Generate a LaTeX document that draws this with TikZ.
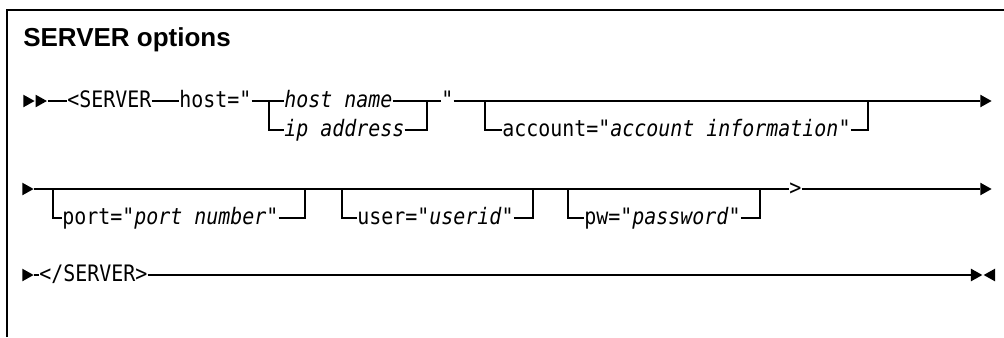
\documentclass[tikz,border=0pt]{standalone}
\usepackage{fontspec}
\setsansfont{Liberation Sans}
\newfontfamily\railfont[FakeStretch=0.88]{DejaVu Sans Mono}
\usetikzlibrary{positioning,shapes.geometric}

\begin{document}
\begin{tikzpicture}[
    x=0.75pt, y=-0.75pt,
    railline/.style={line width=1.1pt},
    railtext/.style={font=\railfont\fontsize{17}{20}\selectfont, inner sep=0pt, text height=13.6pt, text depth=3.4pt, anchor=west},
    railtip/.style={isosceles triangle, isosceles triangle stretches, fill, draw=none, inner sep=0pt, minimum width=9.5pt, minimum height=8.5pt, anchor=west},
    railtipback/.style={railtip, shape border rotate=180}
  ]
    \useasboundingbox (0,0) rectangle (1004,337);
    \draw[line width=1.5pt] (7,337) -- (7,10) -- (1004,10);
    \node[anchor=base west, inner sep=0pt, font=\sffamily\bfseries\fontsize{19.5}{23}\selectfont] (title) at (23,46) {SERVER options};

    % first line: start tag and host
    \node[railtip] (r1tipa) at (23,101) {};
    \node[railtip, right=0pt of r1tipa] (r1tipb) {};
    \node[railtext] (server) at (67,101) {<SERVER};
    \node[railtext] (hostkey) at (179,101) {host="};
    \node[railtext] (hostname) at (284,101) {\itshape host name};
    \node[railtext] (ipaddr) at (284,130) {\itshape ip address};
    \node[railtext] (hostq) at (441,101) {"};
    \node[railtext] (account) at (502,130) {account="\textit{account information}"};
    \node[railtip] (r1end) at (980,101) {};
    \coordinate (hostsplit) at (269,101);
    \coordinate (hostjoin) at (427,101);
    \coordinate (acctsplit) at (485,101);
    \coordinate (acctjoin) at (868,101);
    \draw[railline] (r1tipb.east) -- (server.west);
    \draw[railline] (server.east) -- (hostkey.west);
    \draw[railline] (hostkey.east) -- (hostname.west);
    \draw[railline] (hostsplit) |- (ipaddr.west);
    \draw[railline] (hostname.east) -- (hostq.west);
    \draw[railline] (ipaddr.east) -| (hostjoin);
    \draw[railline] (hostq.east) -- (r1end.west);
    \draw[railline] (acctsplit) |- (account.west);
    \draw[railline] (account.east) -| (acctjoin);

    % second line: optional port, user, pw
    \node[railtip] (r2tip) at (22,189) {};
    \node[railtext] (port) at (62,218) {port="\textit{port number}"};
    \node[railtext] (user) at (357,218) {user="\textit{userid}"};
    \node[railtext] (pw) at (584,218) {pw="\textit{password}"};
    \node[railtext] (close) at (789,189) {>};
    \node[railtip] (r2end) at (980,189) {};
    \coordinate (portsplit) at (53,189);
    \coordinate (portjoin) at (305,189);
    \coordinate (usersplit) at (342,189);
    \coordinate (userjoin) at (533,189);
    \coordinate (pwsplit) at (568,189);
    \coordinate (pwjoin) at (760,189);
    \draw[railline] (r2tip.east) -- (close.west);
    \draw[railline] (close.east) -- (r2end.west);
    \draw[railline] (portsplit) |- (port.west);
    \draw[railline] (port.east) -| (portjoin);
    \draw[railline] (usersplit) |- (user.west);
    \draw[railline] (user.east) -| (userjoin);
    \draw[railline] (pwsplit) |- (pw.west);
    \draw[railline] (pw.east) -| (pwjoin);

    % third line: end tag
    \node[railtip] (r3tip) at (22,275) {};
    \node[railtext] (endtag) at (39,275) {</SERVER>};
    \node[railtip, anchor=east] (r3end) at (983,275) {};
    \node[railtipback, right=0pt of r3end] (r3stop) {};
    \draw[railline] (r3tip.east) -- (endtag.west);
    \draw[railline] (endtag.east) -- (r3end.west);
\end{tikzpicture}
\end{document}
